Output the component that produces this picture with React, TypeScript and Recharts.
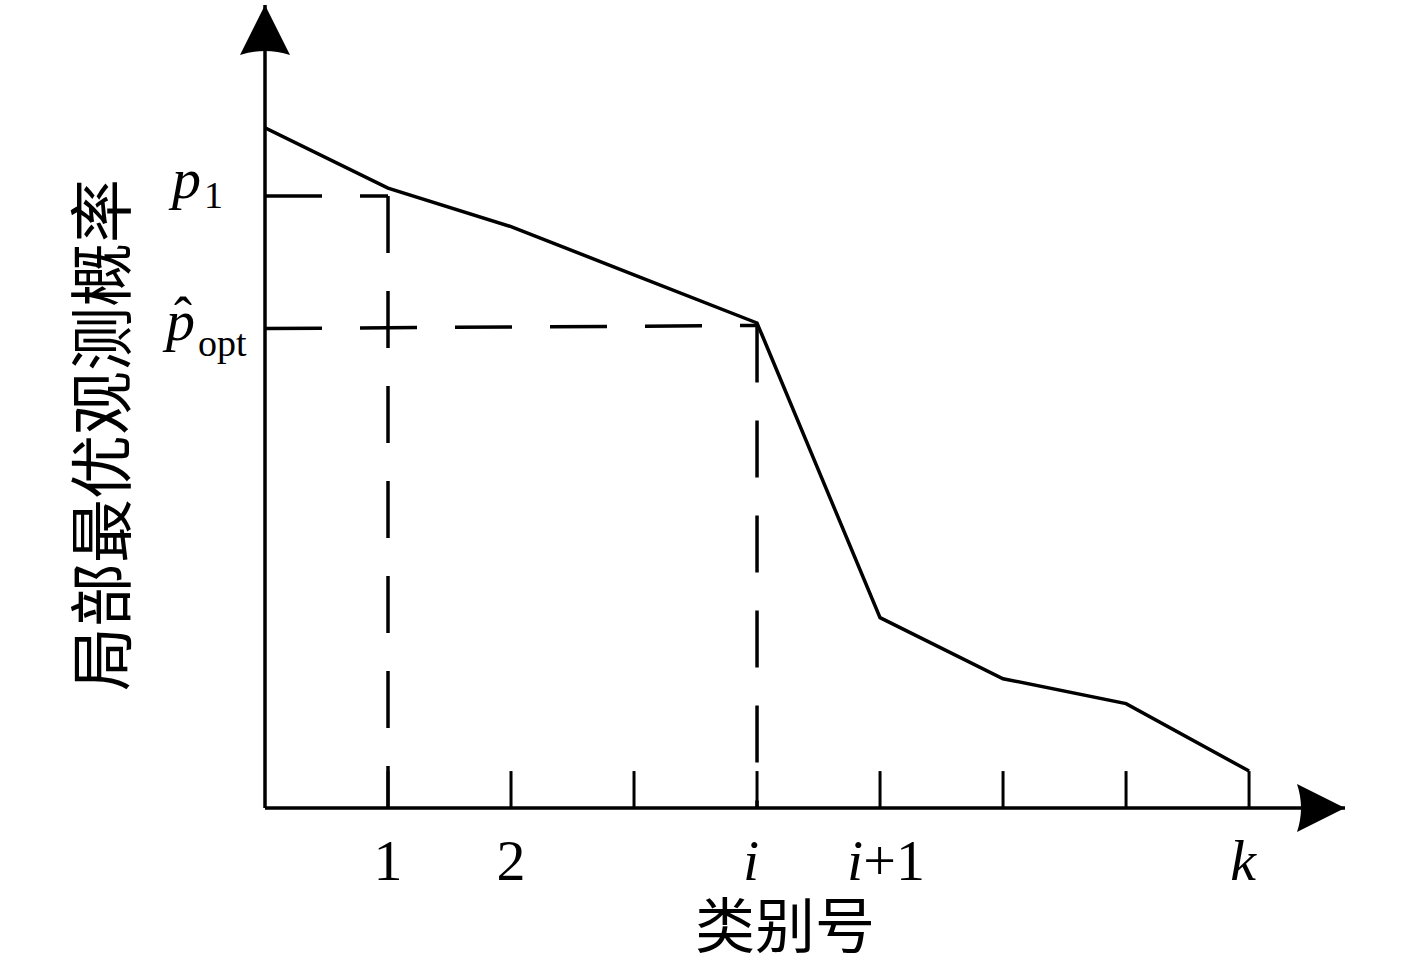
import React from 'react';
import { LineChart, Line, XAxis, YAxis, ReferenceLine, ReferenceDot, Label } from 'recharts';

// class index along x (0 = origin)
const categories = [0, 1, 2, 3, 4, 5, 6, 7, 8];
// local optimal observation probability at each class
const probValues = [0.847, 0.772, 0.724, 0.664, 0.604, 0.237, 0.161, 0.13, 0.046];
const tickPositions = [1, 2, 3, 4, 5, 6, 7, 8];
const tickLabels = ['1', '2', '', 'i', 'i+1', '', '', 'k'];
const p1Level = 0.762;
const poptLevel = [0.597, 0.601]; // the dashed guide is slightly tilted in the source
const optIndex = 4;
const tickMarkHeight = 0.046;
const xMax = 8.78;
const yMax = 1;

const data = categories.map((x, i) => ({ x, p: probValues[i] }));

const SERIF = '"Liberation Serif", "DejaVu Serif", serif';
const CJK = '"Noto Sans CJK SC", sans-serif';
const INK = '#000';

const XTick = (props: any) => {
  const { x, y, payload } = props;
  const label = tickLabels[tickPositions.indexOf(payload.value)] || '';
  if (!label) return null;
  const base = y + 70;
  if (label === 'i+1') {
    return (
      <text x={x + 6} y={base} textAnchor="middle" fontFamily={SERIF} fontSize={58} fill={INK}>
        <tspan fontStyle="italic">i</tspan>
        <tspan>+1</tspan>
      </text>
    );
  }
  const italic = /[a-z]/.test(label);
  return (
    <text x={italic ? x - 6 : x} y={base} textAnchor="middle" fontFamily={SERIF} fontSize={58}
      fontStyle={italic ? 'italic' : 'normal'} fill={INK}>
      {label}
    </text>
  );
};

const YTick = (props: any) => {
  const { y, payload } = props;
  if (payload.value === p1Level) {
    return (
      <g>
        <text x={172} y={y + 2} fontFamily={SERIF} fontSize={58} fontStyle="italic" fill={INK}>p</text>
        <text x={204} y={y + 12} fontFamily={SERIF} fontSize={38} fill={INK}>1</text>
      </g>
    );
  }
  return (
    <g>
      <text x={174} y={y + 6} fontFamily={SERIF} fontSize={54} fill={INK}>ˆ</text>
      <text x={166} y={y + 11} fontFamily={SERIF} fontSize={58} fontStyle="italic" fill={INK}>p</text>
      <text x={198} y={y + 27} fontFamily={SERIF} fontSize={38} fill={INK}>opt</text>
    </g>
  );
};

const XTitle = (props: any) => {
  const { viewBox } = props;
  const cx = viewBox.x + viewBox.width / 2 - 20;
  return (
    <text x={cx} y={948} textAnchor="middle" fontFamily={CJK} fontSize={60} fill={INK}>
      类别号
    </text>
  );
};

const YTitle = () => (
  <text x={125} y={435} textAnchor="middle" fontFamily={CJK} fontSize={64} fill={INK}
    transform="rotate(-90 125 435)">
    局部最优观测概率
  </text>
);

const UpArrow = (props: any) => {
  const { cx, cy } = props;
  return <path d={`M${cx},${cy} L${cx + 25},${cy + 50} Q${cx},${cy + 42} ${cx - 25},${cy + 50} Z`} fill={INK} />;
};

const RightArrow = (props: any) => {
  const { cx, cy } = props;
  return <path d={`M${cx},${cy} L${cx - 48},${cy - 24} Q${cx - 40},${cy} ${cx - 48},${cy + 24} Z`} fill={INK} />;
};

const dash = '57 38';

export default function App() {
  return (
    <div style={{ position: 'absolute', left: 0, top: 0, background: '#fff' }}>
      <LineChart width={1417} height={969} data={data} margin={{ top: 5, right: 72, bottom: 0, left: 0 }}>
        <XAxis
          type="number"
          dataKey="x"
          domain={[0, xMax]}
          ticks={tickPositions}
          tick={<XTick />}
          tickLine={false}
          tickSize={0}
          height={161}
          axisLine={{ stroke: INK, strokeWidth: 3.5 }}
          allowDataOverflow
        >
          <Label content={<XTitle />} />
        </XAxis>
        <YAxis
          type="number"
          domain={[0, yMax]}
          ticks={[poptLevel[0], p1Level]}
          tick={<YTick />}
          tickLine={false}
          width={265}
          axisLine={{ stroke: INK, strokeWidth: 3.5 }}
          allowDataOverflow
        >
          <Label content={<YTitle />} />
        </YAxis>

        {tickPositions.map((t) => (
          <ReferenceLine key={t} segment={[{ x: t, y: 0 }, { x: t, y: tickMarkHeight }]} stroke={INK} strokeWidth={3} />
        ))}

        <ReferenceLine segment={[{ x: 0, y: p1Level }, { x: 1, y: p1Level }]} stroke={INK} strokeWidth={3.5} strokeDasharray={dash} />
        <ReferenceLine segment={[{ x: 1, y: p1Level }, { x: 1, y: 0 }]} stroke={INK} strokeWidth={3.5} strokeDasharray={dash} />
        <ReferenceLine segment={[{ x: 0, y: poptLevel[0] }, { x: optIndex, y: poptLevel[1] }]} stroke={INK} strokeWidth={3.5} strokeDasharray={dash} />
        <ReferenceLine segment={[{ x: optIndex, y: poptLevel[1] }, { x: optIndex, y: 0 }]} stroke={INK} strokeWidth={3.5} strokeDasharray={dash} />

        <Line
          type="linear"
          dataKey="p"
          stroke={INK}
          strokeWidth={3.5}
          dot={false}
          activeDot={false}
          isAnimationActive={false}
        />

        <ReferenceDot x={0} y={yMax} r={1} shape={<UpArrow />} />
        <ReferenceDot x={xMax} y={0} r={1} shape={<RightArrow />} />
      </LineChart>
    </div>
  );
}
